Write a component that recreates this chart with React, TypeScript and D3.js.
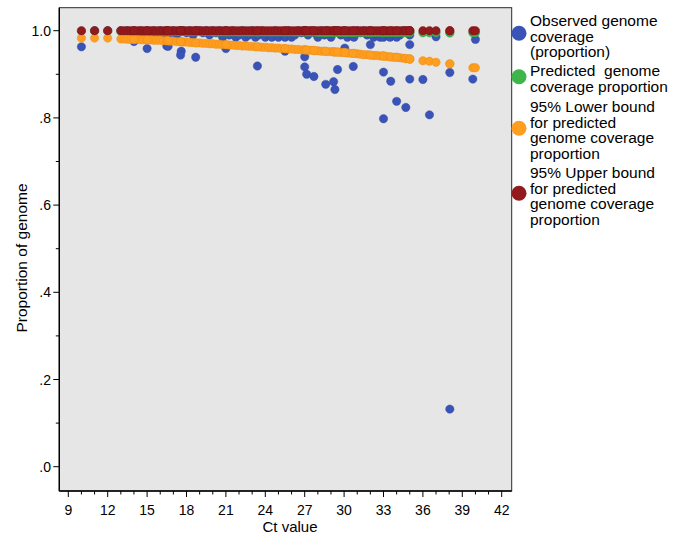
import React from "react";
import * as d3 from "d3";

// ---- data ----
const ctValues: number[] = [
  10, 11, 12,
  13, 13.25, 13.5, 13.75, 14, 14.25, 14.5, 14.75, 15, 15.25, 15.5, 15.75,
  16, 16.25, 16.5, 16.75, 17, 17.25, 17.5, 17.75, 18, 18.25, 18.5, 18.75,
  19, 19.25, 19.5, 19.75, 20, 20.25, 20.5, 20.75, 21, 21.25, 21.5, 21.75,
  22, 22.25, 22.5, 22.75, 23, 23.25, 23.5, 23.75, 24, 24.25, 24.5, 24.75,
  25, 25.25, 25.5, 25.75, 26, 26.25, 26.5, 26.75, 27, 27.25, 27.5, 27.75,
  28, 28.25, 28.5, 28.75, 29, 29.25, 29.5, 29.75, 30, 30.25, 30.5, 30.75,
  31, 31.25, 31.5, 31.75, 32, 32.25, 32.5, 32.75, 33, 33.25, 33.5, 33.75,
  34, 34.25, 34.5, 34.75, 35,
  14, 15, 16.5, 16.6, 17.6, 17.55, 18.7, 21, 23.4, 25.5, 27, 27, 27.15, 27.7,
  28.6, 29.2, 29.3, 29.5, 30.05, 30.7, 32, 33, 33, 33.55, 34, 34.7, 35, 35,
  36, 36.5, 37, 38.05, 38.05, 39.8, 40,
];

const observedValues: number[] = [
  0.963, 1.0, 1.0,
  1.0, 0.99, 1.0, 0.995, 1.0, 0.99, 1.0, 0.985, 1.0, 0.995, 1.0, 0.99,
  1.0, 0.985, 1.0, 0.995, 1.0, 0.99, 1.0, 1.0, 0.995, 1.0, 0.99, 1.0,
  1.0, 0.995, 1.0, 0.99, 1.0, 0.995, 1.0, 0.985, 1.0, 0.99, 1.0, 0.985,
  0.99, 1.0, 0.985, 0.99, 1.0, 0.985, 0.99, 1.0, 0.985, 0.99, 0.985, 1.0,
  0.985, 0.99, 0.985, 1.0, 0.985, 0.99, 1.0, 0.995, 1.0, 0.99, 1.0, 0.995,
  0.985, 1.0, 0.99, 1.0, 0.985, 0.995, 1.0, 0.99, 1.0, 0.985, 0.99, 0.985,
  1.0, 0.995, 1.0, 0.99, 1.0, 0.985, 0.99, 0.985, 0.985, 0.99, 0.985, 0.99,
  0.985, 0.99, 1.0, 0.995, 0.99,
  0.975, 0.959, 0.965, 0.964, 0.953, 0.944, 0.939, 0.959, 0.919, 0.953, 0.94, 0.917, 0.9, 0.895,
  0.877, 0.883, 0.865, 0.911, 0.96, 0.918, 0.968, 0.905, 0.798, 0.884, 0.838, 0.824, 0.889, 0.968,
  0.888, 0.807, 0.986, 0.904, 0.132, 0.889, 0.98,
];

const predictedValues: number[] = [
  0.999, 0.999, 0.999,
  0.998, 0.998, 0.998, 0.998, 0.998, 0.998, 0.998, 0.998, 0.998, 0.998, 0.998, 0.998,
  0.998, 0.998, 0.998, 0.998, 0.998, 0.998, 0.998, 0.998, 0.998, 0.998, 0.998, 0.998,
  0.998, 0.998, 0.998, 0.998, 0.997, 0.997, 0.997, 0.997, 0.997, 0.997, 0.997, 0.997,
  0.997, 0.997, 0.997, 0.997, 0.997, 0.997, 0.997, 0.997, 0.997, 0.997, 0.997, 0.997,
  0.997, 0.997, 0.997, 0.997, 0.997, 0.997, 0.997, 0.997, 0.997, 0.997, 0.997, 0.997,
  0.996, 0.996, 0.996, 0.996, 0.996, 0.996, 0.996, 0.996, 0.996, 0.996, 0.996, 0.996,
  0.996, 0.996, 0.996, 0.996, 0.996, 0.996, 0.996, 0.996, 0.996, 0.996, 0.996, 0.996,
  0.996, 0.996, 0.996, 0.996, 0.996,
  0.998, 0.998, 0.998, 0.998, 0.998, 0.998, 0.998, 0.997, 0.997, 0.997, 0.997, 0.997, 0.997, 0.997,
  0.996, 0.996, 0.996, 0.996, 0.996, 0.996, 0.996, 0.996, 0.996, 0.996, 0.996, 0.996, 0.996, 0.996,
  0.995, 0.995, 0.995, 0.995, 0.995, 0.995, 0.995,
];

const lowerValues: number[] = [
  0.983, 0.983, 0.983,
  0.981, 0.981, 0.9805, 0.98, 0.98, 0.98, 0.979, 0.979, 0.979, 0.979, 0.978, 0.978,
  0.978, 0.977, 0.977, 0.976, 0.976, 0.975, 0.975, 0.974, 0.974, 0.973, 0.973, 0.972,
  0.972, 0.971, 0.971, 0.97, 0.97, 0.969, 0.969, 0.968, 0.968, 0.967, 0.967, 0.966,
  0.966, 0.965, 0.965, 0.964, 0.964, 0.963, 0.963, 0.962, 0.962, 0.961, 0.961, 0.96,
  0.96, 0.959, 0.959, 0.958, 0.958, 0.957, 0.957, 0.956, 0.956, 0.955, 0.955, 0.954,
  0.954, 0.953, 0.953, 0.952, 0.952, 0.951, 0.951, 0.95, 0.95, 0.949, 0.948, 0.948,
  0.947, 0.946, 0.945, 0.945, 0.944, 0.943, 0.943, 0.942, 0.942, 0.941, 0.94, 0.939,
  0.939, 0.938, 0.937, 0.936, 0.935,
  0.98, 0.979, 0.977, 0.977, 0.975, 0.975, 0.972, 0.968, 0.963, 0.959, 0.956, 0.956, 0.956, 0.955,
  0.953, 0.952, 0.951, 0.951, 0.95, 0.948, 0.944, 0.942, 0.942, 0.94, 0.939, 0.936, 0.935, 0.935,
  0.931, 0.93, 0.9275, 0.924, 0.924, 0.915, 0.915,
];

const upperValues: number[] = ctValues.map(() => 1.0);

const xTickLabels: number[] = [9, 12, 15, 18, 21, 24, 27, 30, 33, 36, 39, 42];
const yTickLabels: string[] = [".0", ".2", ".4", ".6", ".8", "1.0"];
const yTickValues: number[] = [0, 0.2, 0.4, 0.6, 0.8, 1.0];

const seriesNames: string[][] = [
  ["Observed genome", "coverage", "(proportion)"],
  ["Predicted  genome", "coverage proportion"],
  ["95% Lower bound", "for predicted", "genome coverage", "proportion"],
  ["95% Upper bound", "for predicted", "genome coverage", "proportion"],
];
const seriesColors = ["#3953b7", "#3db54b", "#fe9d1f", "#92191c"];
const seriesStroke = ["#2f45a0", "#2f9a3c", "#e88a10", "#7a1215"];

const FONT = "'Liberation Sans', Arial, sans-serif";

export default function App() {
  const left = 59.3, right = 511.7, top = 7.7, bottom = 491;
  const x = d3.scaleLinear().domain([9, 42]).range([68.3, 501.7]);
  const y = d3.scaleLinear().domain([0, 1]).range([466.7, 30.7]);

  const minorX = d3.range(9, 43, 1);
  const minorY = d3.range(0, 1.05, 0.1);

  const seriesValues = [observedValues, predictedValues, lowerValues, upperValues];
  const r = 4.2;

  const legendCenters = [33.3, 76.7, 128.3, 193.3];
  const legendFirstLine = [20.7, 70.7, 106.7, 172.7];
  const lineGap = 15.6;

  return (
    <svg
      width={682}
      height={534}
      style={{ position: "absolute", left: 0, top: 0, background: "#ffffff" }}
      fontFamily={FONT}
    >
      <rect x={0} y={0} width={682} height={534} fill="#ffffff" />
      <rect x={left} y={top} width={right - left} height={bottom - top} fill="#e6e6e6" stroke="#2a2a2a" strokeWidth={1} />

      {/* points */}
      {seriesValues.map((vals, si) => (
        <g key={si}>
          {ctValues.map((c, i) => (
            <circle
              key={i}
              cx={x(c)}
              cy={y(vals[i])}
              r={r}
              fill={seriesColors[si]}
              stroke={seriesStroke[si]}
              strokeWidth={0.4}
            />
          ))}
        </g>
      ))}

      {/* axes lines */}
      <line x1={left} x2={left} y1={top} y2={bottom} stroke="#000" strokeWidth={1.4} />
      <line x1={left} x2={right} y1={bottom} y2={bottom} stroke="#000" strokeWidth={1.4} />

      {/* x ticks */}
      {minorX.map((v) => (
        <line key={"mx" + v} x1={x(v)} x2={x(v)} y1={bottom} y2={bottom + (v % 3 === 0 ? 6 : 3.5)} stroke="#000" strokeWidth={1} />
      ))}
      {xTickLabels.map((v) => (
        <text key={"xl" + v} x={x(v)} y={515} fontSize={14} textAnchor="middle" fill="#000">
          {v}
        </text>
      ))}
      <text x={290} y={532} fontSize={15} textAnchor="middle" fill="#000">
        Ct value
      </text>

      {/* y ticks */}
      {minorY.map((v, i) => (
        <line key={"my" + i} x1={left - (i % 2 === 0 ? 6 : 3.5)} x2={left} y1={y(v)} y2={y(v)} stroke="#000" strokeWidth={1} />
      ))}
      {yTickValues.map((v, i) => (
        <text key={"yl" + i} x={51} y={y(v) + 5} fontSize={14} textAnchor="end" fill="#000">
          {yTickLabels[i]}
        </text>
      ))}
      <text
        x={0}
        y={0}
        fontSize={15.5}
        textAnchor="middle"
        fill="#000"
        transform={`translate(27,258) rotate(-90)`}
      >
        Proportion of genome
      </text>

      {/* legend */}
      {seriesNames.map((lines, si) => (
        <g key={"lg" + si}>
          <circle cx={519} cy={legendCenters[si]} r={7.5} fill={seriesColors[si]} />
          {lines.map((ln, li) => (
            <text
              key={li}
              x={530}
              y={legendFirstLine[si] + li * lineGap + 5.3}
              fontSize={15.5}
              fill="#000"
              style={{ whiteSpace: "pre" }}
            >
              {ln}
            </text>
          ))}
        </g>
      ))}
    </svg>
  );
}
